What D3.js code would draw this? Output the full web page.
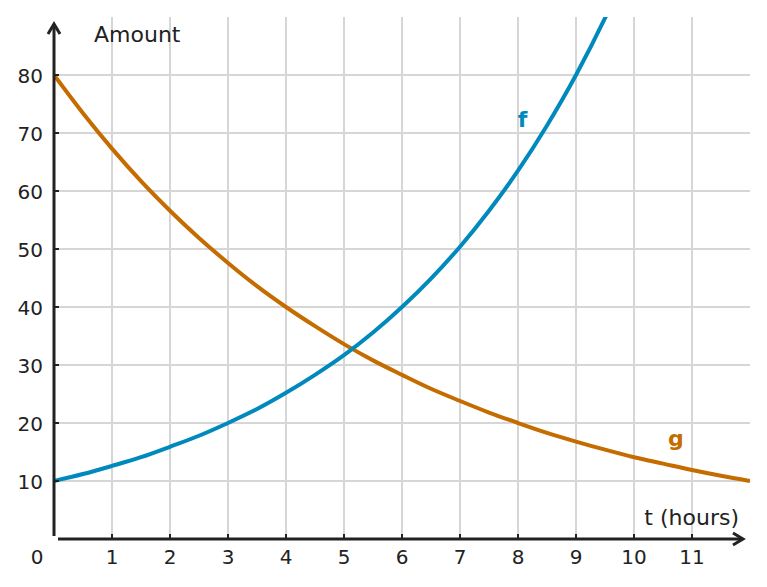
<!DOCTYPE html>
<html>
<head>
<meta charset="utf-8">
<script src="https://cdn.jsdelivr.net/npm/d3@7"></script>
<style>
  body { margin: 0; background: #fff; }
  svg { display: block; font-family: "DejaVu Sans", sans-serif; }
</style>
</head>
<body>
<div class="svg-container"></div>
<script>
// values
const fHours  = [0, 0.5, 1, 1.5, 2, 2.5, 3, 3.5, 4, 4.5, 5, 5.5, 6, 6.5, 7, 7.5, 8, 8.5, 9, 9.5, 9.6];
const fAmount = [10, 11.2, 12.6, 14.1, 15.9, 17.8, 20, 22.4, 25.2, 28.3, 31.7, 35.6, 40, 44.9, 50.4, 56.6, 63.5, 71.3, 80, 89.8, 91.9];
const gHours  = [0, 0.5, 1, 1.5, 2, 2.5, 3, 3.5, 4, 4.5, 5, 5.5, 6, 6.5, 7, 7.5, 8, 8.5, 9, 9.5, 10, 10.5, 11, 11.5, 12];
const gAmount = [80, 73.4, 67.3, 61.7, 56.6, 51.9, 47.6, 43.6, 40, 36.7, 33.6, 30.8, 28.3, 25.9, 23.8, 21.8, 20, 18.3, 16.8, 15.4, 14.1, 13, 11.9, 10.9, 10];
const xTicks = [1, 2, 3, 4, 5, 6, 7, 8, 9, 10, 11];
const yTicks = [10, 20, 30, 40, 50, 60, 70, 80];
const gridX = [1, 2, 3, 4, 5, 6, 7, 8, 9, 10, 11];
const gridY = [10, 20, 30, 40, 50, 60, 70, 80];

const width = 767, height = 587;
const blue = '#0089bd', orange = '#c46c00';

const x = d3.scaleLinear().domain([0, 12]).range([54, 750]);
const y = d3.scaleLinear().domain([0, 90]).range([539, 17]);

const svg = d3.select('.svg-container')
    .append('svg')
    .attr('width', width)
    .attr('height', height);

svg.append('defs').append('clipPath').attr('id', 'plot')
    .append('rect')
    .attr('x', x(0)).attr('y', y(90))
    .attr('width', x(12) - x(0)).attr('height', y(0) - y(90));

//grid
svg.append('g').selectAll('line')
    .data(gridX)
    .join('line')
    .attr('x1', d => x(d)).attr('x2', d => x(d))
    .attr('y1', y(90)).attr('y2', y(0))
    .attr('stroke', '#d6d6d6').attr('stroke-width', 2);
svg.append('g').selectAll('line')
    .data(gridY)
    .join('line')
    .attr('x1', x(0)).attr('x2', x(12))
    .attr('y1', d => y(d)).attr('y2', d => y(d))
    .attr('stroke', '#d6d6d6').attr('stroke-width', 2);

//curves
const line = d3.line().x(d => x(d[0])).y(d => y(d[1])).curve(d3.curveMonotoneX);
const plot = svg.append('g').attr('clip-path', 'url(#plot)');
plot.append('path')
    .datum(gHours.map((t, i) => [t, gAmount[i]]))
    .attr('d', line)
    .attr('fill', 'none').attr('stroke', orange).attr('stroke-width', 4);
plot.append('path')
    .datum(fHours.map((t, i) => [t, fAmount[i]]))
    .attr('d', line)
    .attr('fill', 'none').attr('stroke', blue).attr('stroke-width', 4);

//axes
const axisColor = '#222';
svg.append('line')
    .attr('x1', x(0)).attr('x2', x(0))
    .attr('y1', y(0) - 3).attr('y2', 24)
    .attr('stroke', axisColor).attr('stroke-width', 3);
svg.append('path')
    .attr('d', `M${x(0) - 6},${34} L${x(0)},${24} L${x(0) + 6},${34}`)
    .attr('fill', 'none').attr('stroke', axisColor).attr('stroke-width', 3);
svg.append('line')
    .attr('x1', x(0) + 4).attr('x2', 743)
    .attr('y1', y(0)).attr('y2', y(0))
    .attr('stroke', axisColor).attr('stroke-width', 3);
svg.append('path')
    .attr('d', `M733,${y(0) - 6} L743,${y(0)} L733,${y(0) + 6}`)
    .attr('fill', 'none').attr('stroke', axisColor).attr('stroke-width', 3);

//ticks
svg.append('g').selectAll('line')
    .data(xTicks)
    .join('line')
    .attr('x1', d => x(d)).attr('x2', d => x(d))
    .attr('y1', y(0)).attr('y2', y(0) - 5)
    .attr('stroke', axisColor).attr('stroke-width', 2);
svg.append('g').selectAll('line')
    .data(yTicks)
    .join('line')
    .attr('x1', x(0)).attr('x2', x(0) + 5)
    .attr('y1', d => y(d)).attr('y2', d => y(d))
    .attr('stroke', axisColor).attr('stroke-width', 2);

//tick labels
svg.append('g').selectAll('text')
    .data(xTicks)
    .join('text')
    .attr('x', d => x(d)).attr('y', 564)
    .attr('text-anchor', 'middle')
    .attr('font-size', 20).attr('fill', '#222')
    .text(d => d);
svg.append('g').selectAll('text')
    .data(yTicks)
    .join('text')
    .attr('x', 43).attr('y', d => y(d) + 7.5)
    .attr('text-anchor', 'end')
    .attr('font-size', 20).attr('fill', '#222')
    .text(d => d);
svg.append('text')
    .attr('x', 37).attr('y', 564)
    .attr('text-anchor', 'middle')
    .attr('font-size', 20).attr('fill', '#222')
    .text('0');

//axis titles
svg.append('text')
    .attr('x', 94).attr('y', 42)
    .attr('font-size', 22).attr('fill', '#222')
    .text('Amount');
svg.append('text')
    .attr('x', 739).attr('y', 525)
    .attr('text-anchor', 'end')
    .attr('font-size', 22).attr('fill', '#222')
    .text('t (hours)');

//curve labels
svg.append('text')
    .attr('x', x(8.08)).attr('y', y(71.3) + 2)
    .attr('text-anchor', 'middle')
    .attr('font-size', 22).attr('font-weight', 'bold').attr('fill', blue)
    .text('f');
svg.append('text')
    .attr('x', x(10.72)).attr('y', y(17.5) + 8)
    .attr('text-anchor', 'middle')
    .attr('font-size', 22).attr('font-weight', 'bold').attr('fill', orange)
    .text('g');
</script>
</body>
</html>
